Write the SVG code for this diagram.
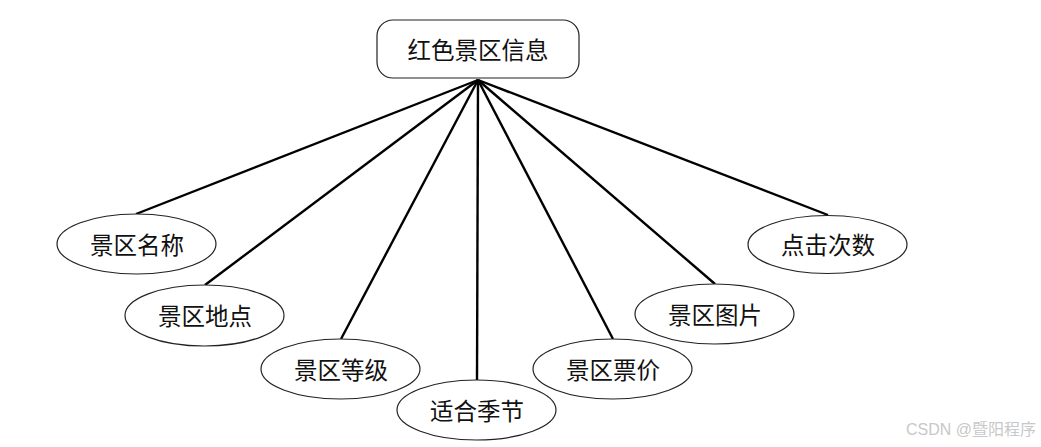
<svg xmlns="http://www.w3.org/2000/svg" width="1041" height="447" viewBox="0 0 1041 447">
<style>
.n{fill:#fff;stroke:#222;stroke-width:1.2}
.t{font-family:"Noto Sans CJK SC",sans-serif;font-size:23.5px;fill:#111;text-anchor:middle;dominant-baseline:central}
.c line{stroke:#000;stroke-width:2.4}
</style>
<rect width="1041" height="447" fill="#fff"/>
<g class="c" id="connectors">
<line x1="478" y1="80" x2="136" y2="214"/>
<line x1="478" y1="80" x2="205" y2="285"/>
<line x1="478" y1="80" x2="341" y2="339"/>
<line x1="478" y1="80" x2="477" y2="380"/>
<line x1="478" y1="80" x2="613" y2="339"/>
<line x1="478" y1="80" x2="715" y2="284"/>
<line x1="478" y1="80" x2="828" y2="215"/>
</g>
<g id="root"><rect class="n" x="377" y="20" width="202" height="58" rx="16"/><text class="t" x="478" y="49">红色景区信息</text></g>
<g id="n1"><ellipse class="n" cx="136.5" cy="244" rx="79.5" ry="30"/><text class="t" x="137" y="244">景区名称</text></g>
<g id="n2"><ellipse class="n" cx="204.5" cy="315.5" rx="79.5" ry="30.5"/><text class="t" x="205" y="315">景区地点</text></g>
<g id="n3"><ellipse class="n" cx="340.5" cy="369" rx="79.5" ry="30"/><text class="t" x="341" y="369">景区等级</text></g>
<g id="n4"><ellipse class="n" cx="476.5" cy="410" rx="79.5" ry="30"/><text class="t" x="477" y="410">适合季节</text></g>
<g id="n5"><ellipse class="n" cx="612.5" cy="369" rx="79.5" ry="30"/><text class="t" x="613" y="369">景区票价</text></g>
<g id="n6"><ellipse class="n" cx="714.5" cy="314" rx="79.5" ry="30"/><text class="t" x="715" y="314">景区图片</text></g>
<g id="n7"><ellipse class="n" cx="827.5" cy="244.5" rx="79.5" ry="29"/><text class="t" x="828" y="244">点击次数</text></g>
<text x="1036" y="429" font-family="'Liberation Sans','Noto Sans CJK SC',sans-serif" font-size="16" fill="#c8c8c8" text-anchor="end" dominant-baseline="central">CSDN @暨阳程序</text>
</svg>
